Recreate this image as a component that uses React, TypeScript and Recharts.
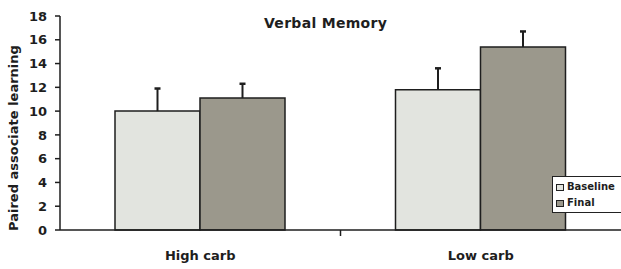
import React from "react";
import { BarChart, Bar, XAxis, YAxis, LabelList } from "recharts";

const categories = ["High carb", "Low carb"];
const baseline = [10.0, 11.8];
const baselineErr = [1.9, 1.8];
const finalVals = [11.1, 15.4];
const finalErr = [1.2, 1.3];
const yTicks = [0, 2, 4, 6, 8, 10, 12, 14, 16, 18];

const data = categories.map((c, i) => ({
  name: c,
  baseline: baseline[i],
  final: finalVals[i],
}));

const FONT = "'DejaVu Sans', Verdana, sans-serif";
const INK = "#1e1e1e";
const BASE_FILL = "#e2e4df";
const FINAL_FILL = "#9b988c";

const makeErr = (errs: number[]) => (props: any) => {
  const { x, y, width, height, value, index } = props;
  const e = errs[index ?? 0];
  if (!value) return null;
  const pxPerUnit = Number(height) / Number(value);
  const cx = Number(x) + Number(width) / 2;
  const top = Number(y) - e * pxPerUnit;
  return (
    <g>
      <line x1={cx} y1={Number(y)} x2={cx} y2={top} stroke={INK} strokeWidth={2} />
      <line x1={cx - 3} y1={top} x2={cx + 3} y2={top} stroke={INK} strokeWidth={2.5} />
    </g>
  );
};

const XTick = (props: any) => {
  const { x, y, payload, index } = props;
  const off = payload && payload.offset != null ? payload.offset : 140;
  return (
    <g>
      {index === 0 && (
        <line x1={x + off} y1={y} x2={x + off} y2={y + 6} stroke={INK} strokeWidth={1.5} />
      )}
      <text x={x} y={y + 30} textAnchor="middle" fontFamily={FONT} fontWeight="bold" fontSize={13} fill={INK}>
        {payload.value}
      </text>
    </g>
  );
};

const legendItems = [
  { label: "Baseline", fill: BASE_FILL },
  { label: "Final", fill: FINAL_FILL },
];

export default function App() {
  return (
    <div style={{ position: "absolute", left: 0, top: 0, width: 621, height: 269, background: "#fff" }}>
      <BarChart
        width={621}
        height={269}
        data={data}
        margin={{ top: 16, right: 0, left: 0, bottom: 0 }}
        barGap={0}
        barCategoryGap={55}
      >
        <YAxis
          width={60}
          domain={[0, 18]}
          ticks={yTicks}
          interval={0}
          tickSize={5}
          tickMargin={8}
          axisLine={{ stroke: INK, strokeWidth: 1.5 }}
          tickLine={{ stroke: INK, strokeWidth: 1.5 }}
          tick={{ fontFamily: FONT, fontWeight: "bold", fontSize: 13, fill: INK }}
          label={{
            value: "Paired associate learning",
            angle: -90,
            position: "insideLeft",
            dx: 8,
            dy: 108,
            style: { fontFamily: FONT, fontWeight: "bold", fontSize: 13, fill: INK },
          }}
        />
        <XAxis
          dataKey="name"
          height={39}
          tickLine={false}
          tickSize={0}
          tickMargin={0}
          axisLine={{ stroke: INK, strokeWidth: 1.5 }}
          tick={<XTick />}
          interval={0}
        />
        <Bar dataKey="baseline" fill={BASE_FILL} stroke={INK} strokeWidth={1.5} isAnimationActive={false}>
          <LabelList dataKey="baseline" content={makeErr(baselineErr)} />
        </Bar>
        <Bar dataKey="final" fill={FINAL_FILL} stroke={INK} strokeWidth={1.5} isAnimationActive={false}>
          <LabelList dataKey="final" content={makeErr(finalErr)} />
        </Bar>
      </BarChart>
      <div
        style={{
          position: "absolute",
          left: 264,
          top: 15,
          fontFamily: FONT,
          fontWeight: "bold",
          fontSize: 14,
          letterSpacing: 0.3,
          color: INK,
          whiteSpace: "nowrap",
        }}
      >
        Verbal Memory
      </div>
      <div
        style={{
          position: "absolute",
          left: 552,
          top: 176,
          width: 75,
          height: 37,
          boxSizing: "border-box",
          border: "1px solid #222",
          background: "#fff",
          padding: "2px 0 0 3px",
          fontFamily: FONT,
          fontSize: 10,
          fontWeight: "bold",
          color: INK,
          lineHeight: "16px",
        }}
      >
        {legendItems.map((e) => (
          <div key={e.label} style={{ display: "flex", alignItems: "center" }}>
            <span
              style={{
                display: "inline-block",
                width: 6,
                height: 5,
                border: "1px solid #222",
                background: e.fill,
                marginRight: 3,
              }}
            />
            <span>{e.label}</span>
          </div>
        ))}
      </div>
    </div>
  );
}
